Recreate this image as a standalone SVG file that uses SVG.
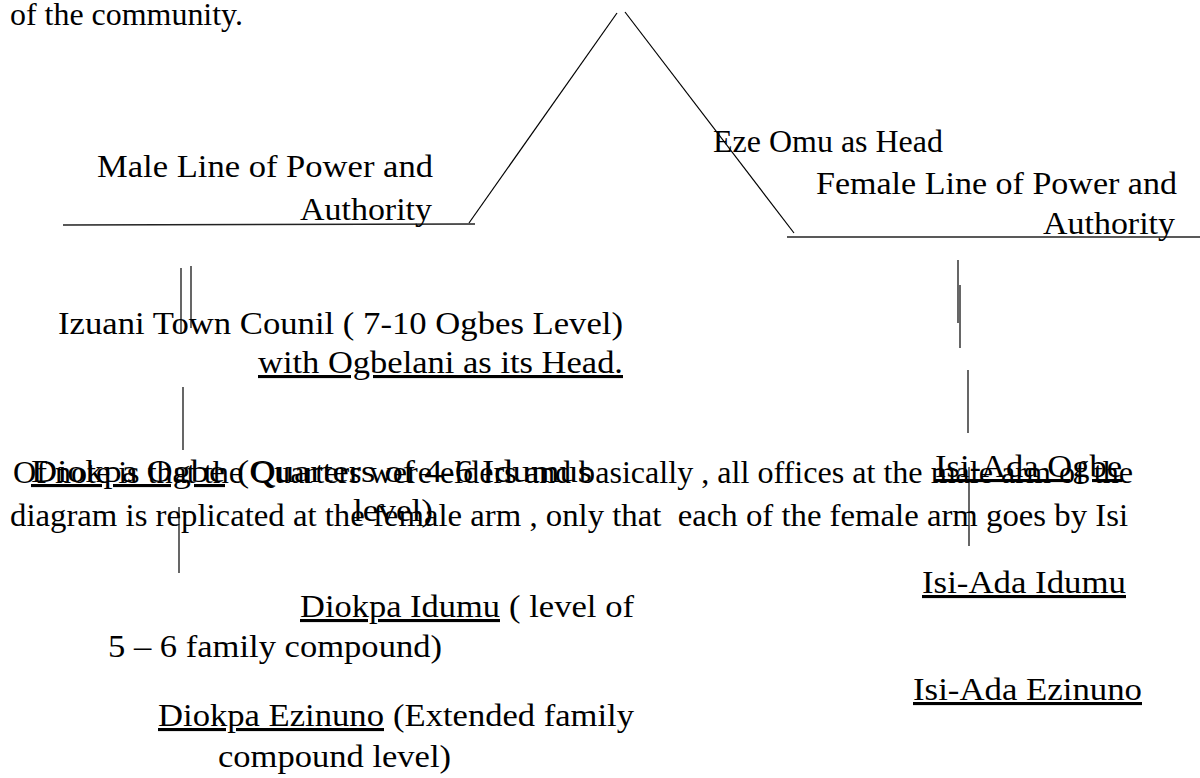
<svg xmlns="http://www.w3.org/2000/svg" width="1200" height="778" viewBox="0 0 1200 778">
<style>
  text { font-family: "Liberation Serif", "Times New Roman", serif; font-size: 31px; fill: #000; }
  .u { text-decoration: underline; }
  .ln { stroke: #000; stroke-width: 1.2; fill: none; }
  .hl { stroke: #222; stroke-width: 1.6; fill: none; }
</style>
<rect width="1200" height="778" fill="#fff"/>

<g id="paragraph">
  <text x="10" y="25" textLength="233" lengthAdjust="spacingAndGlyphs">of the community.</text>
  <text x="13" y="483" textLength="1120" lengthAdjust="spacingAndGlyphs">Of note is that the Quarters were elders and basically , all offices at the male arm of the</text>
  <text x="10" y="526" textLength="1118" lengthAdjust="spacingAndGlyphs" xml:space="preserve">diagram is replicated at the female arm , only that  each of the female arm goes by Isi</text>
</g>

<g id="connectors">
  <line class="hl" x1="63" y1="225" x2="475" y2="224"/>
  <line class="ln" x1="469" y1="223" x2="617" y2="13"/>
  <line class="ln" x1="625" y1="12" x2="794" y2="233"/>
  <line class="hl" x1="787" y1="237" x2="1200" y2="237"/>
  <line class="ln" x1="181" y1="268" x2="181" y2="333"/>
  <line class="ln" x1="191" y1="266" x2="191" y2="328"/>
  <line class="ln" x1="183" y1="387" x2="183" y2="450"/>
  <line class="ln" x1="179" y1="507" x2="179" y2="573"/>
  <line class="ln" x1="958" y1="260" x2="958" y2="323"/>
  <line class="ln" x1="960" y1="285" x2="960" y2="348"/>
  <line class="ln" x1="968" y1="370" x2="968" y2="433"/>
  <line class="ln" x1="969" y1="467" x2="969" y2="546"/>
</g>

<g id="male-line">
  <text x="97" y="177" textLength="336" lengthAdjust="spacingAndGlyphs">Male Line of Power and</text>
  <text x="300" y="220" textLength="132" lengthAdjust="spacingAndGlyphs">Authority</text>
</g>

<g id="eze-omu">
  <text x="713" y="152" textLength="230" lengthAdjust="spacingAndGlyphs">Eze Omu as Head</text>
</g>

<g id="female-line">
  <text x="816" y="194" textLength="361" lengthAdjust="spacingAndGlyphs">Female Line of Power and</text>
  <text x="1043" y="234" textLength="132" lengthAdjust="spacingAndGlyphs">Authority</text>
</g>

<g id="izuani-town-council">
  <text x="58" y="334" textLength="565" lengthAdjust="spacingAndGlyphs">Izuani Town Counil ( 7-10 Ogbes Level)</text>
  <text class="u" x="258" y="373" textLength="365" lengthAdjust="spacingAndGlyphs">with Ogbelani as its Head.</text>
</g>

<g id="diokpa-ogbe">
  <text class="u" x="31" y="482" textLength="194" lengthAdjust="spacingAndGlyphs">Diokpa Ogbe</text>
  <text x="237" y="482" textLength="355" lengthAdjust="spacingAndGlyphs">(Quarters of 4-6 Idumus</text>
  <text x="353" y="521" textLength="80" lengthAdjust="spacingAndGlyphs">level)</text>
</g>

<g id="diokpa-idumu">
  <text class="u" x="300" y="617" textLength="200" lengthAdjust="spacingAndGlyphs">Diokpa Idumu</text>
  <text x="509" y="617" textLength="125" lengthAdjust="spacingAndGlyphs">( level of</text>
  <text x="108" y="657" textLength="334" lengthAdjust="spacingAndGlyphs">5 – 6 family compound)</text>
</g>

<g id="diokpa-ezinuno">
  <text class="u" x="158" y="726" textLength="226" lengthAdjust="spacingAndGlyphs">Diokpa Ezinuno</text>
  <text x="393" y="726" textLength="241" lengthAdjust="spacingAndGlyphs">(Extended family</text>
  <text x="218" y="767" textLength="233" lengthAdjust="spacingAndGlyphs">compound level)</text>
</g>

<g id="isi-ada-ogbe">
  <text class="u" x="935" y="477" textLength="187" lengthAdjust="spacingAndGlyphs">Isi-Ada Ogbe</text>
</g>

<g id="isi-ada-idumu">
  <text class="u" x="922" y="593" textLength="204" lengthAdjust="spacingAndGlyphs">Isi-Ada Idumu</text>
</g>

<g id="isi-ada-ezinuno">
  <text class="u" x="913" y="700" textLength="229" lengthAdjust="spacingAndGlyphs">Isi-Ada Ezinuno</text>
</g>
</svg>
